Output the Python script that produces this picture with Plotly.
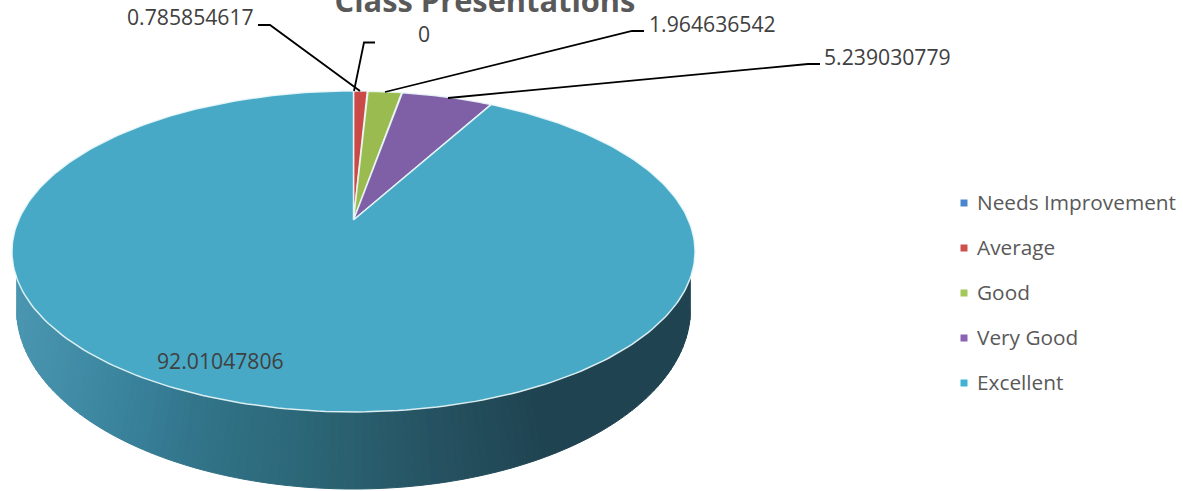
import numpy as np
import plotly.graph_objects as go

categories = ["Needs Improvement", "Average", "Good", "Very Good", "Excellent"]
values = [0, 0.785854617, 1.964636542, 5.239030779, 92.01047806]
slice_colors = ["#4F81BD", "#CB4A47", "#9ABB4F", "#7F5FA6", "#48A9C6"]
legend_colors = ["#4A86CE", "#CF4F4C", "#A5C85A", "#8A63B5", "#40B2D2"]
legend_y = [203, 248, 293, 338, 383]
title_text = "Class Presentations"

# Projection of the tilted disc onto the page (pixel units)
APEX_X, APEX_Y = 353.5, 220.0
A, B, K = 334.9, 154.3, 0.196
TOP_C = (353.5, 251.5, 341.5, 160.5)
BOT_C = (353.5, 309.0, 337.0, 180.0)
WALL_X = [0, 20, 100, 150, 200, 300, 350, 450, 550, 700]
WALL_R = [0x4C, 0x4A, 0x3E, 0x37, 0x32, 0x2C, 0x2A, 0x25, 0x1F, 0x1F]
WALL_G = [0x98, 0x95, 0x88, 0x7E, 0x74, 0x68, 0x60, 0x50, 0x43, 0x44]
WALL_B = [0xB3, 0xB0, 0xA2, 0x97, 0x89, 0x78, 0x70, 0x5F, 0x50, 0x50]


def disc(theta):
    d = 1 + K * np.cos(theta)
    return APEX_X + A * np.sin(theta) / d, APEX_Y - B * np.cos(theta) / d


def ell(c, phi):
    return c[0] + c[2] * np.sin(phi), c[1] - c[3] * np.cos(phi)


fig = go.Figure()

# Side wall, as thin shaded strips
top_edges = np.radians(np.linspace(99.5, 260.5, 121))
bot_edges = np.radians(np.linspace(92.0, 268.0, 121))
for i in range(120):
    pt = np.linspace(top_edges[i], top_edges[i + 1], 3)
    pb = np.linspace(bot_edges[i], bot_edges[i + 1], 3)
    xt, yt = ell(TOP_C, pt)
    xb, yb = ell(BOT_C, pb)
    xs = np.concatenate([xt, xb[::-1], xt[:1]])
    ys = np.concatenate([yt, yb[::-1], yt[:1]])
    xm = xs.mean()
    col = "rgb(%d,%d,%d)" % (np.interp(xm, WALL_X, WALL_R), np.interp(xm, WALL_X, WALL_G), np.interp(xm, WALL_X, WALL_B))
    fig.add_trace(go.Scatter(x=xs, y=ys, mode="lines", fill="toself", fillcolor=col,
                             line=dict(color=col, width=1), hoverinfo="skip", showlegend=False))

# Top face
total = sum(values)
start = 0.0
for cat, val, col in zip(categories, values, slice_colors):
    end = start + val / total * 2 * np.pi
    th = np.linspace(start, end, 300)
    xa, ya = disc(th)
    xs = np.concatenate([[APEX_X], xa, [APEX_X]])
    ys = np.concatenate([[APEX_Y], ya, [APEX_Y]])
    if val > 0:
        fig.add_trace(go.Scatter(x=xs, y=ys, mode="lines", fill="toself", fillcolor=col, name=cat,
                                 line=dict(color="rgba(235,248,250,0.9)", width=1.5), showlegend=False))
    start = end

# Leader lines
leaders = [
    ([258, 270, 360], [25, 25, 91]),
    ([375, 364, 354], [42.5, 42.5, 91]),
    ([644, 632, 385], [31, 31, 92]),
    ([820, 808, 448], [64, 64, 98]),
]
for lx, ly in leaders:
    fig.add_trace(go.Scatter(x=lx, y=ly, mode="lines", line=dict(color="black", width=1.8),
                             hoverinfo="skip", showlegend=False))

# Legend swatches and names
fig.add_trace(go.Scatter(x=[964] * 5, y=legend_y, mode="markers",
                         marker=dict(symbol="square", size=7, color=legend_colors),
                         hoverinfo="skip", showlegend=False))
for name, y in zip(categories, legend_y):
    fig.add_annotation(x=977, y=y, text=name, showarrow=False, xanchor="left", yanchor="middle",
                       xshift=-2, yshift=1,
                       font=dict(family="Open Sans", size=20.8, color="#595959"))

# Data labels
label_pos = [(424, 33), (190.5, 16), (712, 23), (887.5, 56), (220.5, 360)]
label_text = ["0", "0.785854617", "1.964636542", "5.239030779", "92.01047806"]
for t, (x, y) in zip(label_text, label_pos):
    fig.add_annotation(x=x, y=y, text=t, showarrow=False, xanchor="center", yanchor="middle",
                       font=dict(family="Open Sans", size=21.2, color="#404040"))

fig.update_layout(
    width=1183, height=491, margin=dict(l=0, r=0, t=0, b=0),
    paper_bgcolor="white", plot_bgcolor="white", showlegend=False,
    title=dict(text=title_text, x=485 / 1183, xanchor="center", y=1 - 12 / 491, yanchor="bottom",
               font=dict(family="Open Sans", size=30.8, color="#595959", weight="bold")),
    xaxis=dict(range=[0, 1183], visible=False, fixedrange=True),
    yaxis=dict(range=[491, 0], visible=False, fixedrange=True),
)
fig.write_html("out.html", config=dict(displayModeBar=False), post_script="document.body.style.margin='0';")
